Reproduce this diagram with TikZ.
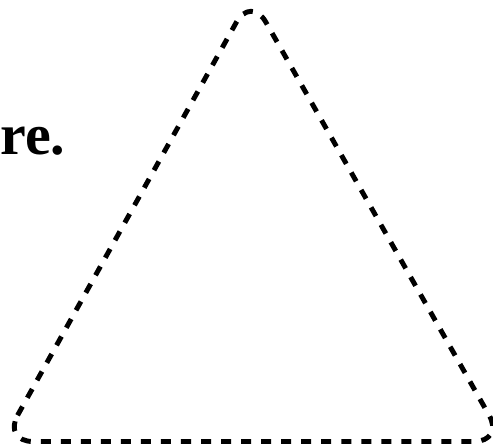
\documentclass[tikz,border=0pt]{standalone}
\usepackage{fontspec}
\setmainfont{Liberation Serif}
\usetikzlibrary{positioning}

\begin{document}
\begin{tikzpicture}[
      outline/.style={draw=black, line width=2.8pt, rounded corners=0.6cm,
        dash pattern=on 5.7pt off 5.7pt},
      caption/.style={font=\fontsize{33}{38}\selectfont\bfseries, inner sep=0pt,
        anchor=base west},
    ]
    \useasboundingbox (0,0) rectangle (9.86,8.9);
    \coordinate (apex) at (5.02,8.98);
    \coordinate (left) at (0.06,0.07);
    \coordinate (right) at (10.08,0.07);
    \draw[outline] (left) -- (apex) -- (right) -- cycle;
    \node[caption] (txt) at (0.0,5.8) {re.};
  \end{tikzpicture}
\end{document}
